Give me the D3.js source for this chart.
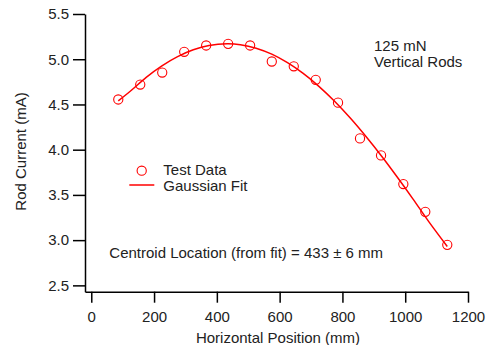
<!DOCTYPE html>
<html>
<head>
<meta charset="utf-8">
<script src="https://cdn.jsdelivr.net/npm/d3@7"></script>
<style>
  html, body { margin: 0; padding: 0; background: #fff; }
  svg { display: block; font-family: "Liberation Sans", Arial, Helvetica, sans-serif; }
</style>
</head>
<body>
<svg id="chart" width="486" height="345"></svg>
<script>
// ---- Data ----
const positions = [86, 156, 226, 296, 366, 436, 506, 575, 645, 715, 786, 856, 923, 994, 1064, 1134];
const currents  = [4.555, 4.72, 4.853, 5.082, 5.152, 5.17, 5.152, 4.975, 4.922, 4.772, 4.52, 4.125, 3.937, 3.62, 3.313, 2.948];

const fitPositions = [86, 125, 175, 225, 275, 325, 375, 433, 475, 525, 575, 625, 675, 725, 775, 825, 875, 925, 975, 1025, 1075, 1134];
const fitCurrents  = [4.54, 4.649, 4.800, 4.927, 5.029, 5.104, 5.151, 5.170, 5.160, 5.122, 5.056, 4.962, 4.843, 4.700, 4.535, 4.349, 4.145, 3.927, 3.695, 3.454, 3.205, 2.93];

const xTicks = [0, 200, 400, 600, 800, 1000, 1200];
const yTicks = [2.5, 3.0, 3.5, 4.0, 4.5, 5.0, 5.5];

const xTitle = "Horizontal Position (mm)";
const yTitle = "Rod Current (mA)";
const noteLines = ["125 mN", "Vertical Rods"];
const legendLabels = ["Test Data", "Gaussian Fit"];
const centroidText = "Centroid Location (from fit) = 433 \u00b1 6 mm";

// ---- Chart ----
const svg = d3.select("#chart");
const red = "#ff0000";
const ink = "#222";
const fs = "15px";

const x = d3.scaleLinear().domain([-20, 1200]).range([85, 468]);
const y = d3.scaleLinear().domain([2.43, 5.5]).range([291.7, 14]);

const yAxis = svg.append("g")
  .attr("transform", `translate(${x(-20)},0)`)
  .call(d3.axisLeft(y).tickValues(yTicks).tickFormat(d3.format(".1f")).tickSizeInner(12).tickSizeOuter(0).tickPadding(4));

const xAxis = svg.append("g")
  .attr("transform", `translate(0,${y(2.43)})`)
  .call(d3.axisBottom(x).tickValues(xTicks).tickFormat(d3.format("d")).tickSizeInner(11).tickSizeOuter(0).tickPadding(9));

[yAxis, xAxis].forEach(g => {
  g.selectAll("path.domain").attr("stroke", "#000").attr("stroke-width", 1.5);
  g.selectAll(".tick line").attr("stroke", "#000").attr("stroke-width", 1.5);
  g.selectAll(".tick text").attr("fill", ink).style("font-size", fs)
    .style("font-family", "'Liberation Sans', Arial, sans-serif");
});

// Axis titles
svg.append("text")
  .attr("x", 278).attr("y", 342.5)
  .attr("text-anchor", "middle")
  .attr("fill", ink).style("font-size", fs)
  .text(xTitle);

svg.append("text")
  .attr("transform", "translate(26,151.5) rotate(-90)")
  .attr("text-anchor", "middle")
  .attr("fill", ink).style("font-size", fs)
  .text(yTitle);

// Fit curve
const line = d3.line()
  .x((d, i) => x(fitPositions[i]))
  .y(d => y(d))
  .curve(d3.curveCatmullRom);

svg.append("path")
  .datum(fitCurrents)
  .attr("d", line)
  .attr("fill", "none")
  .attr("stroke", red)
  .attr("stroke-width", 1.5);

// Data markers
svg.append("g").selectAll("circle")
  .data(currents)
  .join("circle")
  .attr("cx", (d, i) => x(positions[i]))
  .attr("cy", d => y(d))
  .attr("r", 4.6)
  .attr("fill", "none")
  .attr("stroke", red)
  .attr("stroke-width", 1.1);

// Note text
svg.append("g").selectAll("text")
  .data(noteLines)
  .join("text")
  .attr("x", 374)
  .attr("y", (d, i) => 51.2 + i * 16.2)
  .attr("fill", ink).style("font-size", fs)
  .text(d => d);

// Legend
const lg = svg.append("g");
lg.append("circle").attr("cx", 141.7).attr("cy", 170.7).attr("r", 4.6)
  .attr("fill", "none").attr("stroke", red).attr("stroke-width", 1.1);
lg.append("line").attr("x1", 129.3).attr("x2", 154.3).attr("y1", 185).attr("y2", 185)
  .attr("stroke", red).attr("stroke-width", 1.5);
lg.selectAll("text.lab")
  .data(legendLabels)
  .join("text")
  .attr("class", "lab")
  .attr("x", 163.3)
  .attr("y", (d, i) => 175 + i * 16.2)
  .attr("fill", ink).style("font-size", fs)
  .text(d => d);

// Centroid annotation
svg.append("text")
  .attr("x", 109.3).attr("y", 258)
  .attr("fill", ink).style("font-size", fs)
  .text(centroidText);
</script>
</body>
</html>
